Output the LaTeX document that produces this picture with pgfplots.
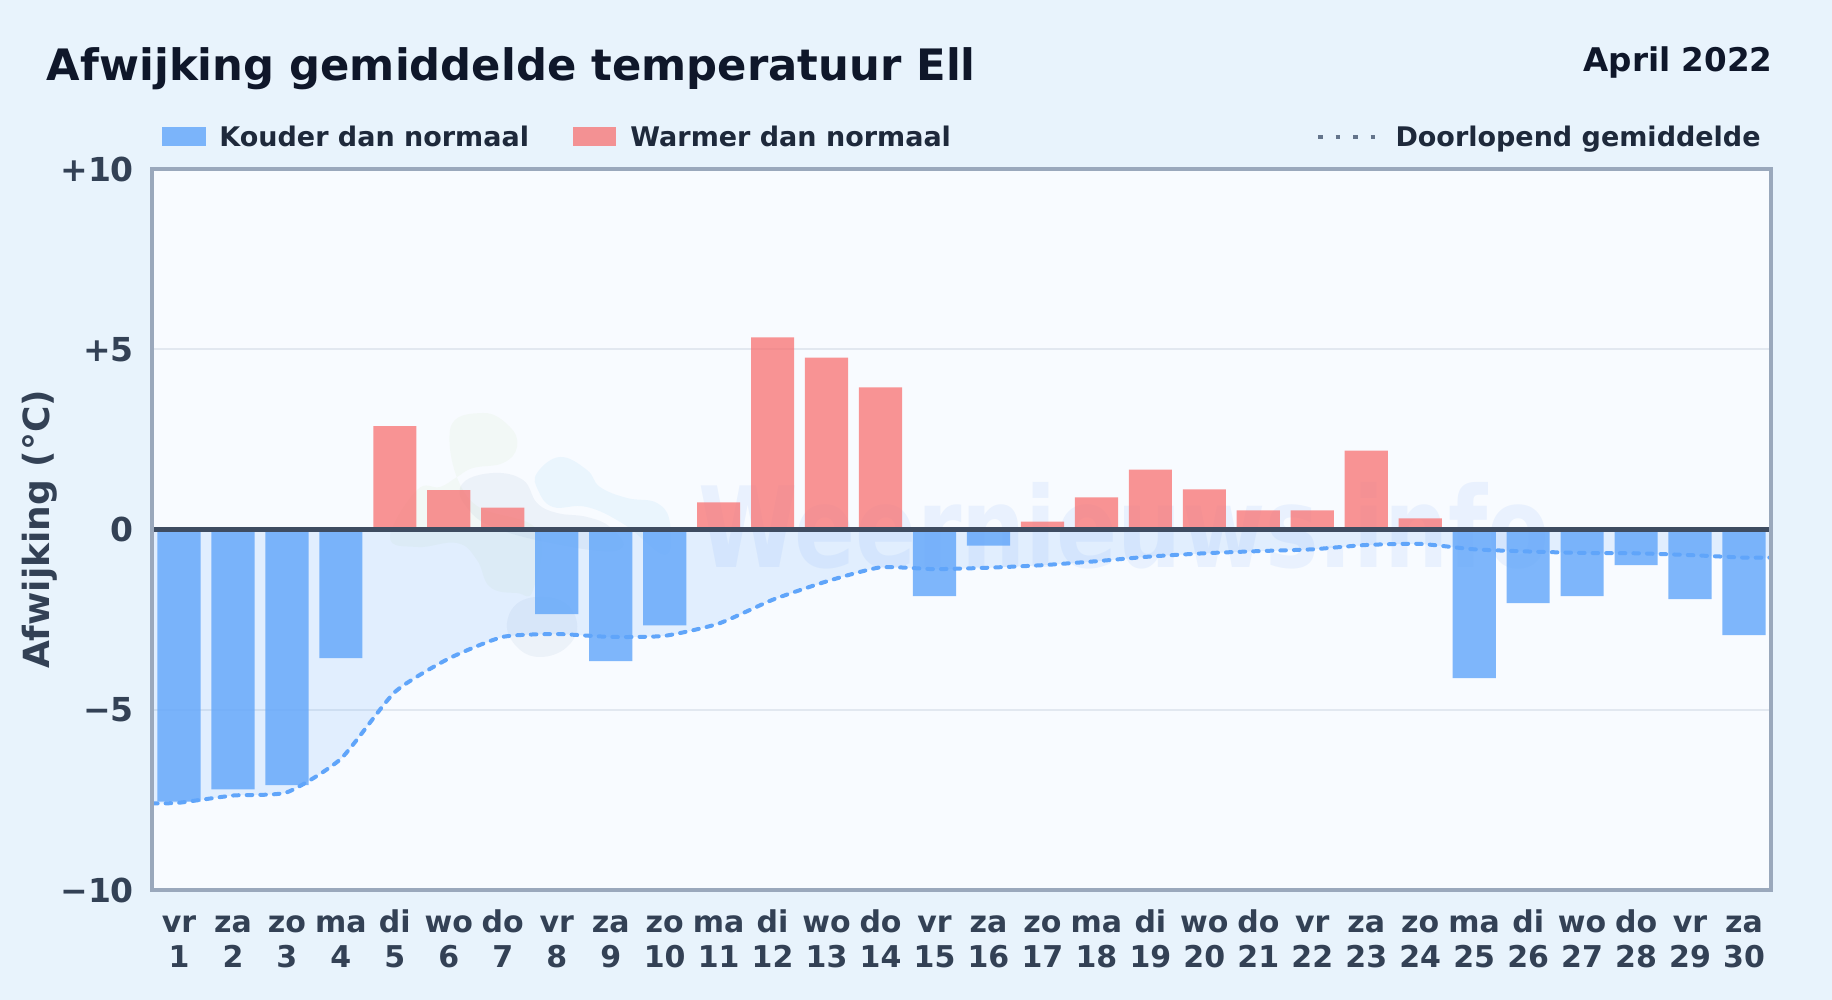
\documentclass[border=0pt]{standalone}
\usepackage{fontspec}
\setmainfont{DejaVu Sans}
\usepackage{pgfplots}
\usepackage{pgfplotstable}
\pgfplotsset{compat=1.18}
\definecolor{pagebg}{HTML}{E8F3FC}
\definecolor{plotbg}{HTML}{F8FBFF}
\definecolor{ink}{HTML}{0F172A}
\definecolor{legendink}{HTML}{1E293B}
\definecolor{tickink}{HTML}{334155}
\definecolor{zeroline}{HTML}{3E4C61}
\definecolor{boxgrey}{HTML}{9AA8BC}
\definecolor{dotgrey}{HTML}{64748B}
\definecolor{gridc}{HTML}{E2E8F0}
\definecolor{cold}{HTML}{60A5FA}
\definecolor{warm}{HTML}{F87171}
\definecolor{wmark}{HTML}{3B82F6}
\definecolor{wgreen}{HTML}{9CC86A}
\definecolor{wnavy}{HTML}{1E4E8C}
\definecolor{wsky}{HTML}{38A8F0}
\newcommand{\tl}[2]{\strut #1\\#2}

% daily deviation, split by sign
\pgfplotstableread{
day dev
1 -7.55
2 -7.21
3 -7.09
4 -3.57
8 -2.35
9 -3.65
10 -2.66
15 -1.85
16 -0.45
25 -4.12
26 -2.04
27 -1.85
28 -0.99
29 -1.93
30 -2.93
}\coldtable
\pgfplotstableread{
day dev
5 2.87
6 1.09
7 0.61
11 0.75
12 5.33
13 4.77
14 3.94
17 0.22
18 0.89
19 1.66
20 1.11
21 0.53
22 0.53
23 2.19
24 0.31
}\warmtable
% running mean
\pgfplotstableread{
day mean
0.5 -7.60
1 -7.58
2 -7.38
3 -7.29
4 -6.36
5 -4.51
6 -3.58
7 -2.98
8 -2.90
9 -2.98
10 -2.95
11 -2.61
12 -1.95
13 -1.44
14 -1.05
15 -1.10
16 -1.06
17 -0.99
18 -0.88
19 -0.75
20 -0.66
21 -0.60
22 -0.55
23 -0.43
24 -0.40
25 -0.55
26 -0.61
27 -0.65
28 -0.66
29 -0.71
30 -0.78
30.5 -0.78
}\meantable

\begin{document}
\begin{tikzpicture}
\fill[pagebg] (0,0) rectangle (916pt,500pt);
\useasboundingbox (0,0) rectangle (916pt,500pt);

% pixel coordinates of the 1832x1000 image from here on
\begin{scope}[x=0.5pt,y=-0.5pt,yshift=500pt]
  \fill[plotbg] (152,169) rectangle (1771,890);
  % logo watermark
  \fill[wgreen,opacity=0.06] plot[smooth cycle,tension=0.7] coordinates {
    (450,430)(483,413)(510,427)(517,447)(503,463)(473,468)(457,477)(440,487)(417,490)
    (390,537)(417,547)(457,543)(477,560)(490,587)(517,593)(533,590)(537,530)(470,500)};
  \fill[wnavy,opacity=0.05] plot[smooth cycle,tension=0.7] coordinates {
    (463,483)(493,473)(523,480)(537,503)(557,513)(587,517)(610,527)(623,547)(590,550)(500,530)(465,505)};
  \fill[wsky,opacity=0.07] plot[smooth cycle,tension=0.7] coordinates {
    (537,473)(560,457)(587,470)(600,487)(627,498)(657,503)(670,523)(665,555)(625,525)(587,507)(553,507)(538,490)};
  \fill[wnavy,opacity=0.05] plot[smooth cycle,tension=0.7] coordinates {
    (507,623)(523,600)(560,600)(577,623)(567,647)(540,657)(517,647)};
  % site name watermark
  \node[text=wmark,opacity=0.08,font=\fontsize{56}{60}\selectfont\bfseries,anchor=base,xscale=0.805]
    at (1124,568) {Weernieuws.info};

  % header and legend
  \node[anchor=base east,inner sep=0pt,text=ink,font=\fontsize{16.3}{19}\selectfont\bfseries] at (1773,72) {April 2022};
  \fill[cold,opacity=0.8] (162,127) rectangle (206,146);
  \node[anchor=base west,inner sep=0pt,text=legendink,font=\fontsize{13.5}{16}\selectfont\bfseries] at (219,147) {Kouder dan normaal};
  \fill[warm,opacity=0.75] (573,127) rectangle (616,146);
  \node[anchor=base west,inner sep=0pt,text=legendink,font=\fontsize{13.5}{16}\selectfont\bfseries] at (630,147) {Warmer dan normaal};
  \draw[dotgrey,line width=2.4pt,dash pattern=on 2.4pt off 6.35pt] (1318,137) -- (1376,137);
  \node[anchor=base east,inner sep=0pt,text=legendink,font=\fontsize{13.5}{16}\selectfont\bfseries] at (1761,147) {Doorlopend gemiddelde};
\end{scope}

\begin{axis}[
    at={(76pt,55pt)},
    anchor=south west,
    scale only axis,
    width=809.5pt,
    height=360.5pt,
    xmin=0.5, xmax=30.5,
    ymin=-10, ymax=10,
    title={Afwijking gemiddelde temperatuur Ell},
    title style={at={(0,1)},anchor=base west,inner sep=0pt,xshift=-52.7pt,yshift=38pt,
      text=ink,font=\fontsize{21.65}{26}\selectfont\bfseries},
    ylabel={Afwijking (°C)},
    ylabel style={text=tickink,font=\fontsize{18}{21}\selectfont\bfseries},
    ylabel shift=-5.4pt,
    ytick={-10,-5,0,5,10},
    yticklabels={−10,−5,0,+5,+10},
    xtick={1,...,30},
    xticklabels={{\tl{vr}{1}},{\tl{za}{2}},{\tl{zo}{3}},{\tl{ma}{4}},{\tl{di}{5}},{\tl{wo}{6}},{\tl{do}{7}},{\tl{vr}{8}},{\tl{za}{9}},{\tl{zo}{10}},
      {\tl{ma}{11}},{\tl{di}{12}},{\tl{wo}{13}},{\tl{do}{14}},{\tl{vr}{15}},{\tl{za}{16}},{\tl{zo}{17}},{\tl{ma}{18}},{\tl{di}{19}},{\tl{wo}{20}},
      {\tl{do}{21}},{\tl{vr}{22}},{\tl{za}{23}},{\tl{zo}{24}},{\tl{ma}{25}},{\tl{di}{26}},{\tl{wo}{27}},{\tl{do}{28}},{\tl{vr}{29}},{\tl{za}{30}}},
    x tick label style={align=center,yshift=-5.2pt,text=tickink,font=\fontsize{15}{17.6}\selectfont\bfseries},
    y tick label style={xshift=-5.5pt,text=tickink,font=\fontsize{16.5}{19}\selectfont\bfseries},
    major tick length=0pt,
    ymajorgrids=true,
    grid style={gridc,line width=0.9pt},
    ybar,
    bar width=0.8,
    bar shift=0pt,
]
\addplot[fill=cold,fill opacity=0.15,draw=none,sharp plot,smooth,tension=0.35] table[x=day,y=mean] {\meantable} \closedcycle;
\addplot[fill=cold,fill opacity=0.8,draw=none] table[x=day,y=dev] {\coldtable};
\addplot[fill=warm,fill opacity=0.75,draw=none] table[x=day,y=dev] {\warmtable};
\addplot[sharp plot,smooth,tension=0.35,cold,line width=2pt,line cap=round,dash pattern=on 2.8pt off 4pt] table[x=day,y=mean] {\meantable};
\addplot[sharp plot,zeroline,line width=2.1pt] coordinates {(0.5,0)(30.5,0)};
\end{axis}
% frame in the reference's grey, over the axis box
\draw[draw=boxgrey,line width=1.6pt] (76pt,55pt) rectangle (885.5pt,415.5pt);
\end{tikzpicture}
\end{document}
